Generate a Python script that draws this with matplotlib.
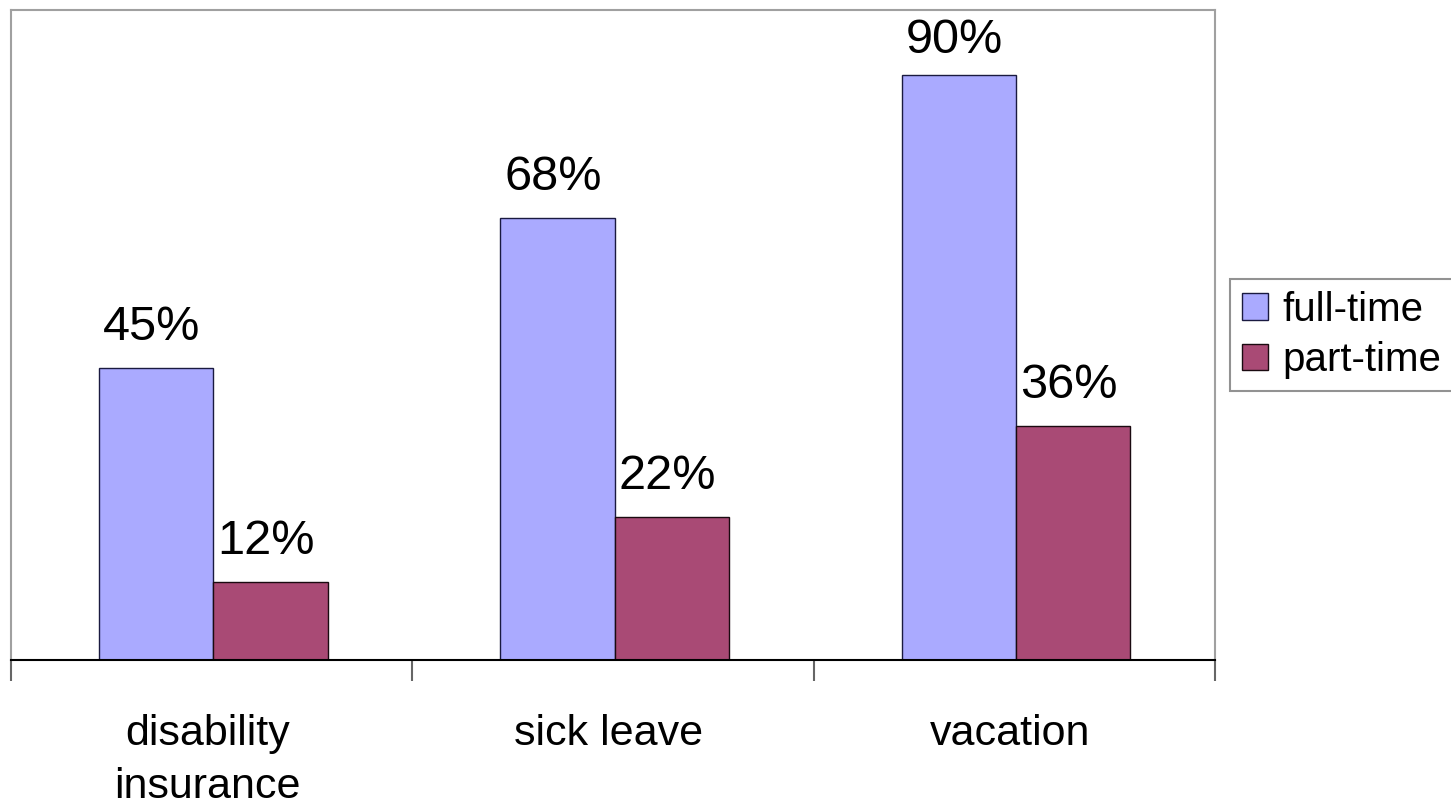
import matplotlib
matplotlib.use("Agg")
import matplotlib.pyplot as plt
import numpy as np

categories = ["disability\ninsurance", "sick leave", "vacation"]
full_time = [45, 68, 90]
part_time = [12, 22, 36]
series_names = ["full-time", "part-time"]

plt.rcParams['font.family'] = ['Liberation Sans', 'DejaVu Sans']

W, H = 1451, 807
fig = plt.figure(figsize=(W / 100, H / 100), dpi=100)
ax = fig.add_axes([11 / W, (H - 660) / H, (1215 - 11) / W, (660 - 10) / H])

x = np.arange(len(categories)) + 0.004
w = 0.285
b1 = ax.bar(x - w / 2, full_time, w, color="#AAAAFF", edgecolor="#1a1a40", linewidth=1, label=series_names[0])
b2 = ax.bar(x + w / 2, part_time, w, color="#A94A75", edgecolor="#1a0a10", linewidth=1, label=series_names[1])

# value labels sit a bit above the bar, but are kept inside the plot area
for bars, vals in ((b1, full_time), (b2, part_time)):
    for r, v in zip(bars, vals):
        ty = min(v + 4.3, 93.4)
        ax.annotate("%d%%" % v, (r.get_x() + r.get_width() / 2, ty), xytext=(-3.2, 0),
                    textcoords="offset points", ha="center", va="baseline", fontsize=35)

ax.set_xlim(-0.5, len(categories) - 0.5)
ax.set_ylim(0, 100)
ax.set_yticks([])

# boundaries get the tick marks, centers get the labels
ax.set_xticks(np.arange(len(categories) + 1) - 0.5)
ax.set_xticklabels([])
ax.tick_params(axis="x", which="major", length=15, width=1.5, color="#666666")
ax.set_xticks(np.arange(len(categories)) - 0.01, minor=True)
ax.set_xticklabels(categories, minor=True, fontsize=31, linespacing=1.4)
ax.tick_params(axis="x", which="minor", length=0, pad=39)

for s in ("left", "top", "right"):
    ax.spines[s].set_color("#a0a0a0")
    ax.spines[s].set_linewidth(1.5)
ax.spines["bottom"].set_color("black")
ax.spines["bottom"].set_linewidth(1.5)

leg = fig.legend(loc="upper left", bbox_to_anchor=(1230 / W, 1 - 279 / H), fontsize=29,
                 frameon=True, fancybox=False, edgecolor="#777777", handlelength=0.65,
                 handleheight=0.65, handletextpad=0.35, borderpad=0.3, labelspacing=0.3,
                 borderaxespad=0)
leg.get_frame().set_linewidth(1.5)

fig.savefig("out.png", dpi=100)
